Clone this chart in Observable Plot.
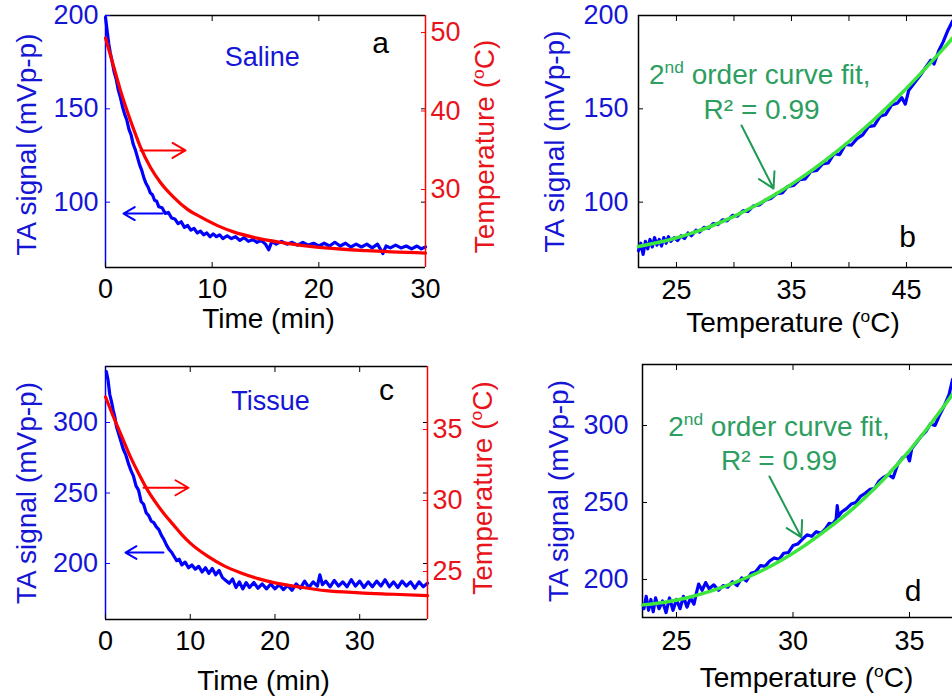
<!DOCTYPE html>
<html><head><meta charset="utf-8">
<script src="https://cdn.jsdelivr.net/npm/d3@7"></script>
<script src="https://cdn.jsdelivr.net/npm/@observablehq/plot@0.6"></script>
<style>
html,body{margin:0;padding:0;background:#fff;overflow:hidden}
#fig{position:relative;width:952px;height:698px;overflow:hidden;background:#fff}
</style></head><body><div id="fig"></div>
<script>
// ---------- data ----------
// Panel a: saline, TA signal (mVp-p) vs time (min)
const salineSignal = [[0,199],[0.15,192],[0.3,185],[0.45,180],[0.6,176],[0.8,170],[1.0,166],[1.2,160],[1.4,156],[1.6,151],[1.8,147],[2.0,144],[2.2,139],[2.4,136],[2.6,131],[2.8,128],[3.0,124],[3.2,120],[3.4,117],[3.6,113],[3.8,110],[4.0,108],[4.2,105],[4.4,104],[4.6,101],[4.8,100.5],[5.0,97.5],[5.3,97],[5.6,94],[5.9,94.5],[6.2,91.5],[6.5,91],[6.8,88.5],[7.1,89.5],[7.4,86.5],[7.7,87.5],[8.0,85],[8.3,86],[8.6,83.5],[8.9,84.5],[9.2,82.5],[9.5,83.5],[9.8,81.5],[10.1,83],[10.4,81.5],[10.7,82.5],[11.0,80.5],[11.4,82],[11.8,80.5],[12.2,81.5],[12.6,79.5],[13.0,81],[13.4,79],[13.8,80],[14.2,78.5],[14.6,79.5],[15.0,77.5],[15.3,74.5],[15.6,79],[16.0,77.5],[16.5,79],[17.0,77.5],[17.5,78.5],[18.0,77],[18.5,78.5],[19.0,77],[19.5,78],[20.0,76.5],[20.5,78],[21.0,76.5],[21.5,78.5],[22.0,76.5],[22.5,78],[23.0,76],[23.5,77.5],[24.0,76],[24.5,77.5],[25.0,75.5],[25.5,77.5],[26.0,72.5],[26.3,76.5],[26.7,75.5],[27.2,77],[27.7,75.5],[28.2,76.5],[28.7,75],[29.2,76.5],[29.6,75],[30.0,76]];
// Panel a: saline temperature (°C) vs time (min)
const salineTemp = [[0,49.3],[0.78,45.6],[1.41,42.6],[2.03,40.0],[2.66,37.6],[3.28,35.4],[4.22,32.8],[5.15,30.9],[6.4,29.0],[7.66,27.5],[8.9,26.5],[10.5,25.4],[12.0,24.6],[14.2,23.8],[16.7,23.2],[19.8,22.65],[24.5,22.2],[30,21.9]];

// Panel b: saline TA signal vs temperature, with 2nd order fit
const salineVsTemp = [[21.7,74],[21.9,78],[22.1,72],[22.3,79],[22.5,75],[22.7,80],[22.9,76],[23.1,81],[23.3,77],[23.5,80],[23.7,76.5],[23.9,81],[24.1,78],[24.3,81.5],[24.5,79],[24.8,81],[25.1,79.5],[25.4,82],[25.7,80.5],[26.0,83.5],[26.3,82],[26.7,85],[27.0,84],[27.4,86.5],[27.8,86],[28.2,88.5],[28.6,88],[29.0,90.5],[29.4,90],[29.9,93],[30.3,92.5],[30.8,95.5],[31.2,95],[31.7,98],[32.2,98.5],[32.7,101],[33.2,102],[33.7,104.5],[34.2,105],[34.7,108.5],[35.2,109],[35.7,112],[36.2,112.5],[36.7,116.5],[37.2,117],[37.7,120.5],[38.2,121],[38.7,126],[39.2,125.5],[39.7,131],[40.2,130.5],[40.7,134],[41.2,136],[41.7,140.5],[42.2,141],[42.7,146],[43.2,147],[43.7,152],[44.2,153],[44.6,156],[44.9,152.5],[45.2,160],[45.7,164],[46.2,168],[46.7,172.5],[47.1,176],[47.4,174],[47.8,181],[48.2,186],[48.6,192],[49.0,197]];
const salineFit = [[21.7,76.3],[24,79.2],[26,82.7],[28,87.1],[30,92.4],[32,98.6],[34,105.7],[36,113.7],[38,122.7],[40,132.5],[42,143.2],[44,154.8],[46,167.4],[48,180.8],[49.1,188.6]];

// Panel c: tissue TA signal vs time
const tissueSignal = [[0.1,336],[0.3,330],[0.5,320],[0.7,315],[0.9,309],[1.1,304],[1.3,297],[1.5,293],[1.8,287],[2.1,281],[2.4,277],[2.7,271],[3.0,266],[3.3,262],[3.6,255],[3.9,252],[4.2,244],[4.5,242],[4.8,236],[5.1,234],[5.4,230],[5.7,229],[6.0,226],[6.3,224],[6.6,220],[6.9,217],[7.2,213],[7.5,210],[7.8,208],[8.1,205],[8.4,202],[8.7,203],[9.0,199],[9.4,201],[9.8,197],[10.2,199],[10.6,196],[11.0,198],[11.4,194],[11.8,197],[12.2,193],[12.6,196.5],[13.0,192],[13.4,195],[13.8,190],[14.2,188],[14.6,186],[15.0,189],[15.4,183],[15.8,187],[16.2,182],[16.6,186.5],[17.0,183],[17.5,186.5],[18.0,182.5],[18.5,185.5],[19.0,182],[19.5,185.5],[20.0,182],[20.5,185],[21.0,181.5],[21.5,184.5],[22.0,181],[22.5,185.5],[23.0,182.5],[23.5,187.5],[24.0,183],[24.5,187],[25.0,184],[25.3,192],[25.6,185],[26.0,187.5],[26.5,183.5],[27.0,188],[27.5,184],[28.0,187],[28.5,183.5],[29.0,188.5],[29.5,184],[30.0,187.5],[30.5,183],[31.0,187],[31.5,183.5],[32.0,187.5],[32.5,184],[33.0,188.5],[33.5,183.5],[34.0,187],[34.5,183],[35.0,187.5],[35.5,184],[36.0,187],[36.5,182.5],[37.0,187],[37.5,183.5],[38.0,186]];
const tissueTemp = [[0,37.3],[1,35.8],[2,34.4],[3,33.0],[4,31.8],[5,30.7],[6,29.8],[7,29.0],[8,28.3],[9,27.6],[10,27.0],[12,26.1],[14,25.4],[16,24.9],[18,24.5],[20,24.2],[23,23.9],[26,23.65],[30,23.5],[34,23.4],[38,23.3]];

// Panel d: tissue TA signal vs temperature, with 2nd order fit
const tissueVsTemp = [[23.6,181],[23.7,189],[23.8,180],[23.9,187],[24.0,179],[24.1,188],[24.25,181],[24.4,186],[24.55,178.5],[24.7,188],[24.85,180],[25.0,187],[25.15,181],[25.3,189],[25.45,182],[25.6,188],[25.75,184],[25.85,191],[25.95,197],[26.1,193],[26.25,198],[26.4,194],[26.6,196.5],[26.8,193],[27.0,196],[27.2,195],[27.4,198.5],[27.6,196],[27.8,201],[28.0,199],[28.2,204],[28.4,205],[28.6,209],[28.8,208.5],[29.0,212],[29.2,214],[29.4,213],[29.6,217],[29.8,217.5],[30.0,222],[30.2,223],[30.4,226],[30.6,229],[30.8,228],[31.0,231],[31.2,230],[31.4,233],[31.55,236.5],[31.7,236],[31.85,239],[31.9,248],[31.95,241],[32.1,244],[32.3,246],[32.5,249],[32.7,250],[32.9,254],[33.1,256],[33.3,258.5],[33.5,259],[33.7,264],[33.9,266.5],[34.1,268],[34.3,266],[34.5,275],[34.7,279],[34.9,281],[35.0,277],[35.1,285],[35.3,289],[35.5,293],[35.7,296],[35.9,301],[36.1,300],[36.3,307],[36.5,313],[36.7,320],[36.85,330]];
const tissueFit = [[23.55,183.5],[24.5,185.2],[25.5,188.3],[26.5,192.6],[27.5,198],[28.5,204.5],[29.5,212.5],[30.5,222],[31.5,233],[32.5,245],[33.5,259],[34.5,275],[35.5,293],[36.5,313],[36.9,321.5]];

// axis settings
const aXDomain = [0, 30], aYDomain = [65, 200], aY2Domain = [20.06, 52.17];
const aXTicks = [0, 10, 20, 30], aYTicks = [100, 150, 200], aY2Ticks = [30, 40, 50];
const bXDomain = [21.7, 49.09], bYDomain = [65, 200];
const bXLabels = [25, 35, 45], bXTicks = [25, 30, 35, 40, 45], bYTicks = [100, 150, 200];
const cXDomain = [0, 38], cYDomain = [160.3, 339.7], cY2Domain = [21.62, 39.44];
const cXTicks = [0, 10, 20, 30], cYTicks = [200, 250, 300], cY2Ticks = [25, 30, 35];
const dXDomain = [23.54, 36.89], dYDomain = [175.3, 339.6];
const dXTicks = [25, 30, 35], dYTicks = [200, 250, 300];

// annotations (data coordinates)
const salineArrows = {signal: [{x1: 5.34, y1: 93.9, x2: 1.69, y2: 93.9}], temp: [{x1: 3.28, y1: 34.97, x2: 7.5, y2: 34.97}]};
const tissueArrows = {signal: [{x1: 6.84, y1: 207.8, x2: 2.36, y2: 207.8}], temp: [{x1: 4.48, y1: 30.9, x2: 9.79, y2: 30.9}]};
const fitArrowB = [{x1: 30.66, y1: 141.1, x2: 33.44, y2: 107.3}];
const fitArrowD = [{x1: 28.99, y1: 266.9, x2: 30.36, y2: 227.3}];
const fitTextB = [{x: 32.25, y: 168.2, t: "2^{nd} order curve fit,"}, {x: 32.4, y: 149.5, t: "R\u00B2 = 0.99"}];
const fitTextD = [{x: 29.4, y: 299.3, t: "2^{nd} order curve fit,"}, {x: 29.4, y: 276.8, t: "R\u00B2 = 0.99"}];

// ---------- styling ----------
const FONT = "Arial, 'Liberation Sans', Helvetica, sans-serif";
const BLUE = "#0000ff", BLUE_TXT = "#1515d6", RED = "#ff0000", RED_TXT = "#e8141c";
const GREEN_FIT = "#3ce63c", GREEN_TXT = "#2c9e60", GREEN_ARROW = "#1f9a55";
const STYLE = `font-family:${FONT};font-size:27px;background:transparent;overflow:visible;`;
const fig = document.getElementById("fig");
const X = d => d[0], Y = d => d[1];

function applySup(svg) {
  const NS = "http://www.w3.org/2000/svg";
  svg.querySelectorAll("text").forEach(t => {
    const m = /^(.*?)\^\{(.+?)\}(.*)$/.exec(t.textContent);
    if (!m) return;
    while (t.firstChild) t.removeChild(t.firstChild);
    t.appendChild(document.createTextNode(m[1]));
    const sup = document.createElementNS(NS, "tspan");
    sup.style.fontSize = "62%";
    sup.setAttribute("dy", "-0.6em");
    sup.textContent = m[2];
    t.appendChild(sup);
    const rest = document.createElementNS(NS, "tspan");
    rest.setAttribute("dy", "0.372em");
    rest.textContent = m[3];
    t.appendChild(rest);
  });
}
function place(svg, left, top) {
  svg.style.position = "absolute";
  svg.style.left = left + "px";
  svg.style.top = top + "px";
  fig.appendChild(svg);
  applySup(svg);
}
function xAxes(labels, ticks, pad, topTicks) {
  return [
    Plot.axisX(labels, {anchor: "bottom", tickSize: 0, tickPadding: pad, color: "black", label: null}),
    Plot.axisX(ticks, {anchor: "bottom", tickSize: -5, fill: "none", stroke: "black", label: null}),
    Plot.axisX(topTicks, {anchor: "top", tickSize: -5, fill: "none", stroke: "black", label: null})
  ];
}
function yLeft(ticks, pad, tickColor) {
  return [
    Plot.axisY(ticks, {anchor: "left", tickSize: 0, tickPadding: pad, color: BLUE_TXT, label: null}),
    Plot.axisY(ticks, {anchor: "left", tickSize: -5, fill: "none", stroke: tickColor, label: null})
  ];
}
const yTitle = (dx, dy) => Plot.text(["TA signal (mVp-p)"], {text: d => d, frameAnchor: "left", textAnchor: "middle", lineAnchor: "middle", dx, dy, rotate: -90, fill: BLUE_TXT, fontSize: 28});
const xTitle = (s, dx, dy) => Plot.text([s], {text: d => d, frameAnchor: "bottom", textAnchor: "middle", dx, dy, lineAnchor: "top", fill: "black", fontSize: 28});
const tempTitle = (dx, dy) => Plot.text(["Temperature (^{o}C)"], {text: d => d, frameAnchor: "right", textAnchor: "middle", lineAnchor: "middle", dx, dy, rotate: -90, fill: RED_TXT, fontSize: 28});
const arrow = (data, stroke, w) => Plot.arrow(data, {x1: "x1", y1: "y1", x2: "x2", y2: "y2", stroke, strokeWidth: w, headLength: 13, headAngle: 60});

// ---------- panel a ----------
place(Plot.plot({
  width: 476, height: 349, marginLeft: 105, marginRight: 51, marginTop: 15, marginBottom: 82,
  style: STYLE,
  x: {domain: aXDomain, label: null}, y: {domain: aYDomain, label: null},
  marks: [
    Plot.ruleY(aYDomain, {stroke: "black", strokeWidth: 1.5}),
    Plot.ruleX([aXDomain[0]], {stroke: BLUE, strokeWidth: 1.5}),
    ...xAxes(aXTicks, aXTicks, 11, aXTicks),
    ...yLeft(aYTicks, 7, BLUE),
    Plot.axisY(aYTicks, {anchor: "right", tickSize: -5, fill: "none", stroke: "black", label: null}),
    yTitle(-78, 3),
    xTitle("Time (min)", 3, 41),
    Plot.line(salineSignal, {x: X, y: Y, stroke: BLUE, strokeWidth: 3.2}),
    arrow(salineArrows.signal, BLUE, 2),
    Plot.text([{x: 14.7, y: 177.8}], {x: "x", y: "y", text: () => "Saline", fill: BLUE_TXT, fontSize: 27}),
    Plot.text([{x: 25.8, y: 185.2}], {x: "x", y: "y", text: () => "a", fill: "black", fontSize: 30})
  ]
}), 0, 0);
place(Plot.plot({
  width: 476, height: 349, marginLeft: 105, marginRight: 51, marginTop: 15, marginBottom: 82,
  style: STYLE,
  x: {domain: aXDomain, label: null, axis: null}, y: {domain: aY2Domain, label: null},
  marks: [
    Plot.ruleX([aXDomain[1]], {stroke: RED, strokeWidth: 1.5}),
    Plot.axisY(aY2Ticks, {anchor: "right", tickSize: 0, tickPadding: 5, color: RED_TXT, label: null}),
    Plot.axisY(aY2Ticks, {anchor: "right", tickSize: -5, fill: "none", stroke: RED, label: null}),
    tempTitle(60, 5),
    Plot.line(salineTemp, {x: X, y: Y, stroke: RED, strokeWidth: 3.2, curve: "monotone-x"}),
    arrow(salineArrows.temp, RED, 2)
  ]
}), 0, 0);

// ---------- panel b ----------
place(Plot.plot({
  width: 478, height: 349, marginLeft: 162, marginRight: 1, marginTop: 15, marginBottom: 82,
  style: STYLE,
  x: {domain: bXDomain, label: null}, y: {domain: bYDomain, label: null},
  marks: [
    Plot.frame({stroke: "black", strokeWidth: 1.5}),
    ...xAxes(bXLabels, bXTicks, 12, bXTicks),
    ...yLeft(bYTicks, 10, "black"),
    yTitle(-83, 0),
    xTitle("Temperature (^{o}C)", -3, 45),
    Plot.line(salineVsTemp, {x: X, y: Y, stroke: BLUE, strokeWidth: 3.2}),
    Plot.line(salineFit, {x: X, y: Y, stroke: GREEN_FIT, strokeWidth: 3.5, curve: "natural"}),
    arrow(fitArrowB, GREEN_ARROW, 2),
    Plot.text(fitTextB, {x: "x", y: "y", text: "t", fill: GREEN_TXT, fontSize: 28}),
    Plot.text([{x: 45.09, y: 80.9}], {x: "x", y: "y", text: () => "b", fill: "black", fontSize: 30})
  ]
}), 476, 0);

// ---------- panel c ----------
place(Plot.plot({
  width: 476, height: 349, marginLeft: 105, marginRight: 49, marginTop: 17, marginBottom: 79,
  style: STYLE,
  x: {domain: cXDomain, label: null}, y: {domain: cYDomain, label: null},
  marks: [
    Plot.ruleY(cYDomain, {stroke: "black", strokeWidth: 1.5}),
    Plot.ruleX([cXDomain[0]], {stroke: BLUE, strokeWidth: 1.5}),
    ...xAxes(cXTicks, cXTicks, 11, cXTicks),
    ...yLeft(cYTicks, 7.5, BLUE),
    Plot.axisY(cYTicks, {anchor: "right", tickSize: -5, fill: "none", stroke: "black", label: null}),
    yTitle(-78, 0),
    xTitle("Time (min)", -3, 51),
    Plot.line(tissueSignal, {x: X, y: Y, stroke: BLUE, strokeWidth: 3.2}),
    arrow(tissueArrows.signal, BLUE, 2),
    Plot.text([{x: 19.47, y: 315.3}], {x: "x", y: "y", text: () => "Tissue", fill: BLUE_TXT, fontSize: 27}),
    Plot.text([{x: 33.16, y: 323.1}], {x: "x", y: "y", text: () => "c", fill: "black", fontSize: 30})
  ]
}), 0, 349);
place(Plot.plot({
  width: 476, height: 349, marginLeft: 105, marginRight: 49, marginTop: 17, marginBottom: 79,
  style: STYLE,
  x: {domain: cXDomain, label: null, axis: null}, y: {domain: cY2Domain, label: null},
  marks: [
    Plot.ruleX([cXDomain[1]], {stroke: RED, strokeWidth: 1.5}),
    Plot.axisY(cY2Ticks, {anchor: "right", tickSize: 0, tickPadding: 5, color: RED_TXT, label: null}),
    Plot.axisY(cY2Ticks, {anchor: "right", tickSize: -5, fill: "none", stroke: RED, label: null}),
    tempTitle(56, -5),
    Plot.line(tissueTemp, {x: X, y: Y, stroke: RED, strokeWidth: 3.2, curve: "monotone-x"}),
    arrow(tissueArrows.temp, RED, 2)
  ]
}), 0, 349);

// ---------- panel d ----------
place(Plot.plot({
  width: 478, height: 349, marginLeft: 166, marginRight: 1, marginTop: 15, marginBottom: 81,
  style: STYLE,
  x: {domain: dXDomain, label: null}, y: {domain: dYDomain, label: null},
  marks: [
    Plot.frame({stroke: "black", strokeWidth: 1.5}),
    ...xAxes(dXTicks, dXTicks, 13, dXTicks),
    ...yLeft(dYTicks, 14, "black"),
    yTitle(-83.5, 0),
    xTitle("Temperature (^{o}C)", 8.5, 50),
    Plot.line(tissueVsTemp, {x: X, y: Y, stroke: BLUE, strokeWidth: 3.2}),
    Plot.line(tissueFit, {x: X, y: Y, stroke: GREEN_FIT, strokeWidth: 3.5, curve: "natural"}),
    arrow(fitArrowD, GREEN_ARROW, 2),
    Plot.text(fitTextD, {x: "x", y: "y", text: "t", fill: GREEN_TXT, fontSize: 28}),
    Plot.text([{x: 35.16, y: 192.1}], {x: "x", y: "y", text: () => "d", fill: "black", fontSize: 30})
  ]
}), 476, 349);
</script></body></html>
